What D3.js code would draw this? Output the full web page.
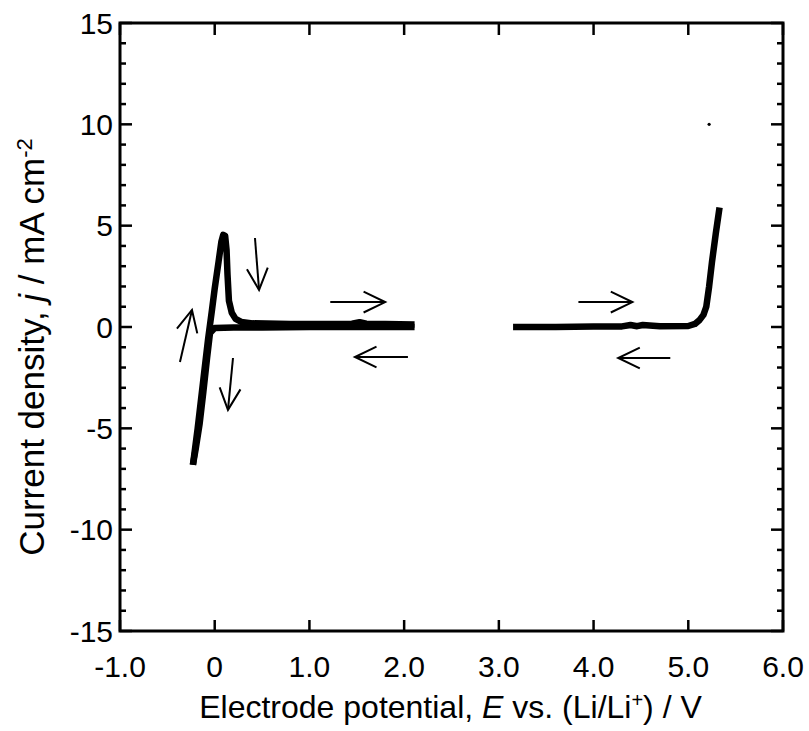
<!DOCTYPE html>
<html>
<head>
<meta charset="utf-8">
<script src="https://cdn.jsdelivr.net/npm/d3@7"></script>
<style>
  body { margin: 0; background: #fff; }
  svg { display: block; font-family: 'Liberation Sans', Arial, sans-serif; }
</style>
</head>
<body>
<svg id="chart" width="809" height="731"></svg>
<script>
// ---- data (E in V, j in mA cm^-2) ----
const xTickValues = [-1, 0, 1, 2, 3, 4, 5, 6];
const xTickLabels = ['-1.0', '0', '1.0', '2.0', '3.0', '4.0', '5.0', '6.0'];
const yTickValues = [-15, -10, -5, 0, 5, 10, 15];
const yTickLabels = ['-15', '-10', '-5', '0', '5', '10', '15'];

// low-potential cycle: cathodic sweep from 2.1 V down to -0.23 V
const lowReverseE = [2.11, 1.5, 1.0, 0.5, 0.2, 0.0, -0.05, -0.08, -0.12, -0.16, -0.2, -0.23];
const lowReverseJ = [0.0, 0.0, 0.0, -0.02, -0.03, -0.05, -0.3, -1.5, -3.2, -4.8, -6.0, -6.8];
// anodic sweep back from -0.23 V up to 2.1 V (stripping peak near 0.1 V)
const lowForwardE = [-0.23, -0.18, -0.12, -0.07, -0.03, 0.0, 0.04, 0.07, 0.09, 0.11, 0.125, 0.135, 0.15, 0.18, 0.22, 0.28, 0.4, 0.8, 1.2, 1.45, 1.53, 1.6, 1.8, 2.11];
const lowForwardJ = [-6.8, -5.0, -2.6, -0.6, 0.8, 1.9, 3.2, 4.2, 4.55, 4.5, 3.8, 2.6, 1.3, 0.7, 0.4, 0.25, 0.18, 0.15, 0.15, 0.16, 0.24, 0.16, 0.15, 0.12];

// high-potential sweep: 3.15 V up to 5.33 V (oxidation onset ~5.1 V)
const highE = [3.15, 3.6, 4.0, 4.3, 4.39, 4.46, 4.52, 4.7, 5.0, 5.07, 5.12, 5.16, 5.19, 5.22, 5.25, 5.29, 5.33];
const highJ = [0.0, 0.0, 0.02, 0.03, 0.1, 0.04, 0.1, 0.04, 0.05, 0.15, 0.35, 0.6, 1.0, 2.0, 3.2, 4.6, 5.9];

// stray data point in the upper right
const strayPoint = [5.22, 10.0];

// scan direction arrows: [E0, j0, E1, j1]
const arrows = [
  [0.425, 4.39, 0.468, 1.83],
  [1.22, 1.23, 1.80, 1.23],
  [2.04, -1.48, 1.48, -1.48],
  [-0.367, -1.73, -0.24, 0.84],
  [0.193, -1.53, 0.14, -4.09],
  [3.84, 1.23, 4.41, 1.23],
  [4.81, -1.53, 4.26, -1.53]
];

// ---- drawing ----
const svg = d3.select('#chart');
const margin = { top: 23, right: 26, bottom: 100, left: 120 };
const width = 809 - margin.left - margin.right;
const height = 731 - margin.top - margin.bottom;

const x = d3.scaleLinear().domain([-1, 6]).range([0, width]);
const y = d3.scaleLinear().domain([-15, 15]).range([height, 0]);

const g = svg.append('g')
  .attr('transform', 'translate(' + margin.left + ',' + margin.top + ')');

const minorY = d3.range(-15, 16, 1).filter(v => v % 5 !== 0);

// ticks pointing inward on all four sides
function yTicks(side) {
  const x0 = side === 'left' ? 0 : width;
  const dir = side === 'left' ? 1 : -1;
  g.append('g').selectAll('line.major')
    .data(yTickValues)
    .enter().append('line')
    .attr('x1', x0).attr('x2', x0 + dir * 12)
    .attr('y1', d => y(d)).attr('y2', d => y(d))
    .attr('stroke', '#000').attr('stroke-width', 2.5);
  g.append('g').selectAll('line.minor')
    .data(minorY)
    .enter().append('line')
    .attr('x1', x0).attr('x2', x0 + dir * 6)
    .attr('y1', d => y(d)).attr('y2', d => y(d))
    .attr('stroke', '#000').attr('stroke-width', 2.5);
}
yTicks('left');
yTicks('right');

g.append('g').selectAll('line')
  .data(xTickValues)
  .enter().append('line')
  .attr('x1', d => x(d)).attr('x2', d => x(d))
  .attr('y1', height).attr('y2', height - 11)
  .attr('stroke', '#000').attr('stroke-width', 2.5);
g.append('g').selectAll('line')
  .data(xTickValues)
  .enter().append('line')
  .attr('x1', d => x(d)).attr('x2', d => x(d))
  .attr('y1', 0).attr('y2', 12)
  .attr('stroke', '#000').attr('stroke-width', 2.5);

// frame
g.append('rect')
  .attr('x', 0).attr('y', 0)
  .attr('width', width).attr('height', height)
  .attr('fill', 'none').attr('stroke', '#000').attr('stroke-width', 3);

// tick labels
g.append('g').selectAll('text')
  .data(xTickValues)
  .enter().append('text')
  .attr('x', d => x(d))
  .attr('y', height + 46)
  .attr('text-anchor', 'middle')
  .attr('font-size', 30)
  .text((d, i) => xTickLabels[i]);

g.append('g').selectAll('text')
  .data(yTickValues)
  .enter().append('text')
  .attr('x', -7)
  .attr('y', d => y(d))
  .attr('dy', '0.35em')
  .attr('text-anchor', 'end')
  .attr('font-size', 30)
  .text((d, i) => yTickLabels[i]);

// axis titles
const xt = svg.append('text')
  .attr('x', margin.left + width / 2 - 1)
  .attr('y', 718)
  .attr('text-anchor', 'middle')
  .attr('font-size', 32);
xt.append('tspan').text('Electrode potential, ');
xt.append('tspan').attr('font-style', 'italic').text('E');
xt.append('tspan').text(' vs. (Li/Li');
xt.append('tspan').attr('baseline-shift', 'super').attr('font-size', 20).text('+');
xt.append('tspan').text(') / V');

const yt = svg.append('text')
  .attr('transform', 'translate(44,347) rotate(-90)')
  .attr('text-anchor', 'middle')
  .attr('font-size', 35);
yt.append('tspan').text('Current density, ');
yt.append('tspan').attr('font-style', 'italic').text('j');
yt.append('tspan').text(' / mA cm');
yt.append('tspan').attr('baseline-shift', 'super').attr('font-size', 22).text('-2');

// curves
const line = d3.line().x(d => x(d[0])).y(d => y(d[1]));
const zip = (a, b) => a.map((v, i) => [v, b[i]]);
const series = [
  zip(lowReverseE, lowReverseJ),
  zip(lowForwardE, lowForwardJ),
  zip(highE, highJ)
];
g.append('g').selectAll('path')
  .data(series)
  .enter().append('path')
  .attr('d', line)
  .attr('fill', 'none')
  .attr('stroke', '#000')
  .attr('stroke-width', 6.5)
  .attr('stroke-linejoin', 'round')
  .attr('stroke-linecap', 'butt');

g.append('circle')
  .attr('cx', x(strayPoint[0]))
  .attr('cy', y(strayPoint[1]))
  .attr('r', 1.6)
  .attr('fill', '#000');

// arrows with open V heads
const ag = g.append('g').attr('stroke', '#000').attr('stroke-width', 2).attr('fill', 'none');
arrows.forEach(a => {
  const x0 = x(a[0]), y0 = y(a[1]), x1 = x(a[2]), y1 = y(a[3]);
  const ang = Math.atan2(y1 - y0, x1 - x0);
  const len = 24, spread = 0.45;
  ag.append('line').attr('x1', x0).attr('y1', y0).attr('x2', x1).attr('y2', y1);
  ag.append('polyline').attr('points', [
    [x1 - len * Math.cos(ang - spread), y1 - len * Math.sin(ang - spread)],
    [x1, y1],
    [x1 - len * Math.cos(ang + spread), y1 - len * Math.sin(ang + spread)]
  ].map(p => p.join(',')).join(' '));
});
</script>
</body>
</html>
